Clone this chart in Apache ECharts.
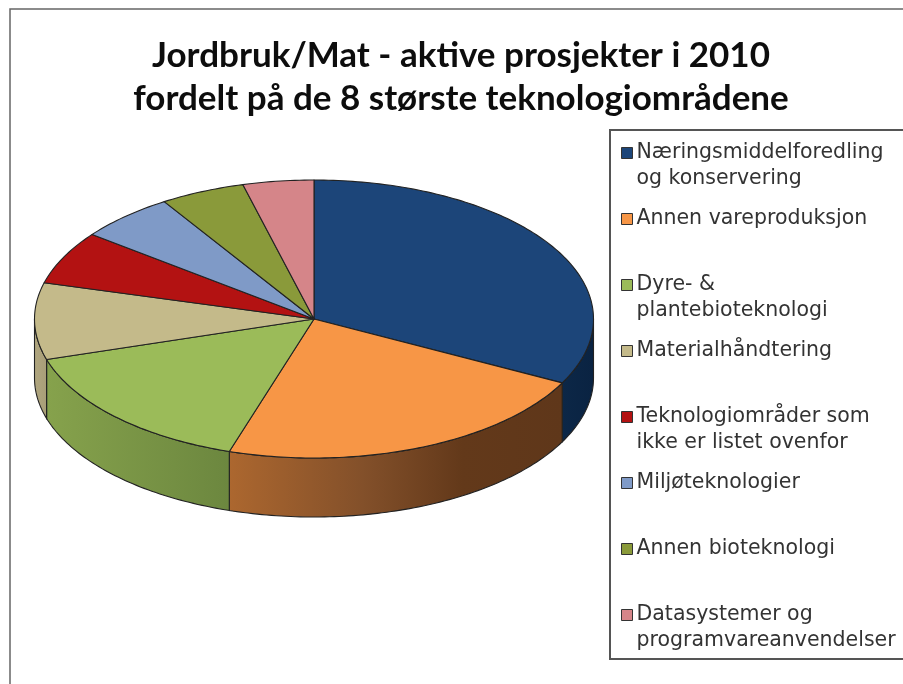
<!DOCTYPE html>
<html><head><meta charset="utf-8">
<style>html,body{margin:0;padding:0;background:#fff}#c{width:903px;height:684px}</style>
<script src="https://cdn.jsdelivr.net/npm/echarts@6/dist/echarts.min.js"></script></head>
<body><div id="c"></div>
<script>
const titleText = 'Jordbruk/Mat - aktive prosjekter i 2010\nfordelt på de 8 største teknologiområdene';
const categories = ['Næringsmiddelforedling\nog konservering','Annen vareproduksjon','Dyre- &\nplantebioteknologi','Materialhåndtering','Teknologiområder som\nikke er listet ovenfor','Miljøteknologier','Annen bioteknologi','Datasystemer og\nprogramvareanvendelser'];
const shares = [32.6,22.3,15.4,8.9,6.2,5.6,4.9,4.1];
const topColors = ['#1c4579','#f79646','#9bbb59','#c4ba8a','#b31212','#7f9ac7','#8a9a3a','#d58589'];
const wallStops = [
  [[0,'#0c2747'],[1,'#0a2342']],
  [[0,'#ac672f'],[0.4,'#83502a'],[0.7,'#63391a'],[1,'#5f371a']],
  [[0,'#86a24c'],[1,'#6c873f']],
  [[0,'#b0a67f'],[1,'#a89e78']],
  [[0,'#800'],[1,'#800']],[[0,'#567'],[1,'#567']],[[0,'#676'],[1,'#676']],[[0,'#965'],[1,'#965']]
];
const CX=314, CY=319, RX=279.5, RY=139, DEPTH=59;
const total = shares.reduce((a,b)=>a+b,0);
const pt=(deg,dy=0)=>{const r=deg*Math.PI/180;return [CX+RX*Math.sin(r),CY-RY*Math.cos(r)+dy];};
function arc(a0,a1,dy){const n=Math.max(2,Math.ceil(Math.abs(a1-a0)));const o=[];for(let i=0;i<=n;i++)o.push(pt(a0+(a1-a0)*i/n,dy));return o;}
function renderSlice(idx){
  const before=shares.slice(0,idx).reduce((a,b)=>a+b,0);
  return function(params,api){
    const a0=before/total*360, a1=a0+api.value(0)/total*360;
    const children=[];
    const w0=Math.max(a0,90), w1=Math.min(a1,270);
    if(w1>w0){
      const xs=arc(w0,w1,0).map(p=>p[0]);
      const x0=Math.min(...xs), x1=Math.max(...xs);
      let stops=wallStops[idx];
      children.push({type:'polygon',z2:1,shape:{points:arc(w0,w1,0).concat(arc(w1,w0,DEPTH))},
        style:{fill:new echarts.graphic.LinearGradient(x0,0,x1,0,stops.map(s=>({offset:s[0],color:s[1]})),true),stroke:'#222',lineWidth:1.1}});
    }
    children.push({type:'polygon',z2:2,shape:{points:[[CX,CY]].concat(arc(a0,a1,0))},
      style:{fill:topColors[idx],stroke:'#222',lineWidth:1.1,lineJoin:'round'}});
    return {type:'group',children};
  };
}
const chart=echarts.init(document.getElementById('c'),null,{renderer:'canvas'});
chart.setOption({
  animation:false,
  tooltip:{show:false},
  title:{text:titleText,left:456,top:29,textAlign:'center',
    textStyle:{fontFamily:'Lato',fontWeight:'bold',fontSize:35,lineHeight:43,color:'#0d0d0d'}},
  legend:{orient:'vertical',left:616,top:109,itemWidth:11,itemHeight:11,itemGap:-12,icon:'rect',selectedMode:false,
    data:categories,
    itemStyle:{borderColor:'#333',borderWidth:1},
    formatter:n=>' \n'+n+(n.includes('\n')?'':'\n '),
    textStyle:{fontFamily:'DejaVu Sans',fontSize:20.5,lineHeight:26,color:'#333',padding:[0,0,0,-1]}},
  graphic:[
    {type:'rect',z:-1,shape:{x:10,y:9,width:900,height:690},style:{fill:'#fff',stroke:'#666',lineWidth:1.5}},
    {type:'rect',z:0,shape:{x:610,y:130,width:300,height:529},style:{fill:'#fff',stroke:'#555',lineWidth:2}}
  ],
  series:categories.map((name,i)=>({
    type:'custom',name,coordinateSystem:'none',silent:true,
    itemStyle:{color:topColors[i]},
    data:[shares[i]],
    renderItem:renderSlice(i)
  }))
});
</script></body></html>
